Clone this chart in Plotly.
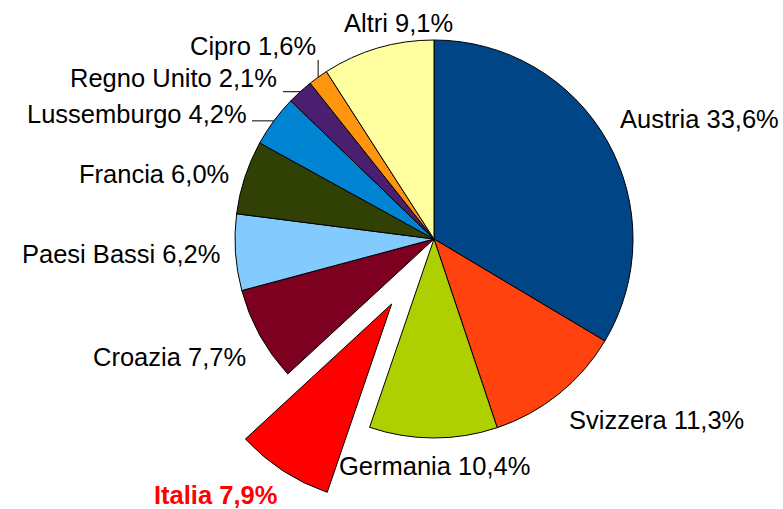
import math
import plotly.graph_objects as go

# ---- data ----
labels = ["Austria", "Svizzera", "Germania", "Italia", "Croazia", "Paesi Bassi",
          "Francia", "Lussemburgo", "Regno Unito", "Cipro", "Altri"]
values = [33.6, 11.3, 10.4, 7.9, 7.7, 6.2, 6.0, 4.2, 2.1, 1.6, 9.1]
colors = ["#004586", "#ff420e", "#aecf00", "#ff0000", "#7e0021", "#83caff",
          "#314004", "#0084d1", "#4b1f6f", "#ff950e", "#ffffa0"]
highlight = "Italia"

# ---- layout geometry (pixels) ----
W, H = 783, 509
CX, CY, R = 434.0, 239.0, 199.0
PULL = 0.39
FONT = "Liberation Sans, Arial, sans-serif"
FS = 25.5

total = sum(values)
TRANSP = "rgba(0,0,0,0)"


def domain(cx, cy, r):
    return dict(x=[(cx - r) / W, (cx + r) / W],
                y=[(H - cy - r) / H, (H - cy + r) / H])


def mid_angle(i):
    cum = sum(values[:i]) + values[i] / 2.0
    return 2 * math.pi * cum / total


hi = labels.index(highlight)

# base pie (highlighted slice invisible)
colA = [TRANSP if l == highlight else c for l, c in zip(labels, colors)]
lineA = [TRANSP if l == highlight else "#000000" for l in labels]
# exploded slice
colB = [c if l == highlight else TRANSP for l, c in zip(labels, colors)]
lineB = ["#000000" if l == highlight else TRANSP for l in labels]

th = mid_angle(hi)
bx = CX + PULL * R * math.sin(th)
by = CY - PULL * R * math.cos(th)

fig = go.Figure()
for cols, lines, (cx, cy) in [(colA, lineA, (CX, CY)), (colB, lineB, (bx, by))]:
    fig.add_trace(go.Pie(
        labels=labels, values=values, sort=False, direction="clockwise",
        rotation=0, textinfo="none", hoverinfo="skip", showlegend=False,
        marker=dict(colors=cols, line=dict(color=lines, width=1)),
        domain=domain(cx, cy, R)))


def fmt(l, v):
    return f"{l} {v:.1f}%".replace(".", ",")


# label placement: (x px, y px cap-centre, anchor)
label_pos = {
    "Austria": (618, 119, "left"),
    "Svizzera": (567, 420, "left"),
    "Germania": (337, 466, "left"),
    "Italia": (152, 495, "left"),
    "Croazia": (248, 357, "right"),
    "Paesi Bassi": (222, 254, "right"),
    "Francia": (231, 174, "right"),
    "Lussemburgo": (249, 114, "right"),
    "Regno Unito": (279, 78, "right"),
    "Cipro": (318, 46, "right"),
    "Altri": (342, 23, "left"),
}

annotations = []
for l, v in zip(labels, values):
    x, y, anc = label_pos[l]
    if l == highlight:
        txt = "<b>" + fmt(l, v) + "</b>"
        fc = "#ff0000"
    else:
        txt = fmt(l, v)
        fc = "#000000"
    annotations.append(dict(
        text=txt, x=x / W, y=1 - y / H, xref="paper", yref="paper",
        xanchor=anc, yanchor="middle", showarrow=False,
        font=dict(family=FONT, size=FS, color=fc)))

# leader lines from label to slice edge (edge point computed from data)
shapes = []
leaders = {"Lussemburgo": ("h", 252, 120), "Regno Unito": ("h", 283, 91),
           "Cipro": ("v", 319, 60)}
for l, (kind, a, b) in leaders.items():
    i = labels.index(l)
    t = mid_angle(i)
    ex = CX + R * math.sin(t)
    ey = CY - R * math.cos(t)
    if kind == "h":
        x0, y0, x1, y1 = a, ey, ex, ey
    else:
        x0, y0, x1, y1 = ex, b, ex, ey
    shapes.append(dict(type="line", xref="paper", yref="paper",
                       x0=x0 / W, y0=1 - y0 / H, x1=x1 / W, y1=1 - y1 / H,
                       line=dict(color="#000000", width=1)))

fig.update_layout(
    width=W, height=H, margin=dict(l=0, r=0, t=0, b=0),
    paper_bgcolor="white", plot_bgcolor="white",
    annotations=annotations, shapes=shapes,
)

fig.write_html("out.html",
               config={"displayModeBar": False},
               post_script="document.body.style.margin='0';"
                           "document.body.style.overflow='hidden';")
